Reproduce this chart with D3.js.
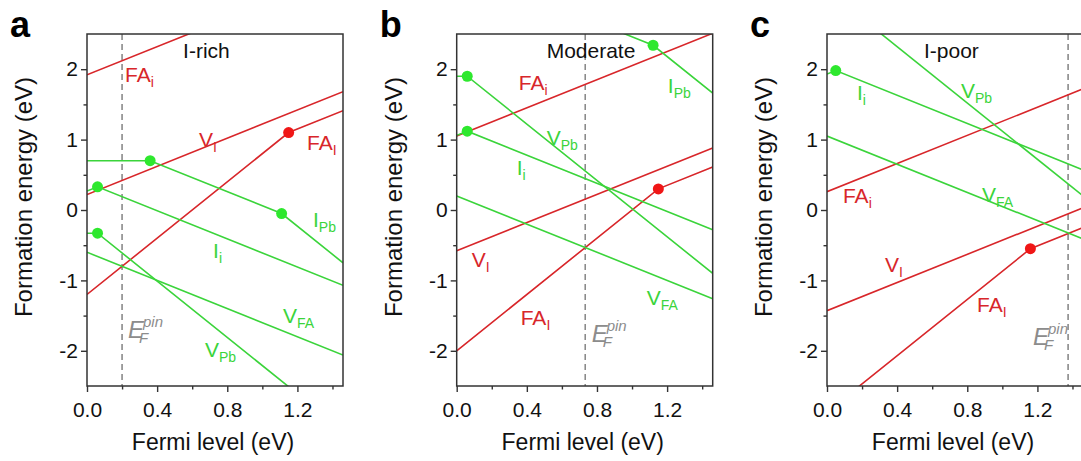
<!DOCTYPE html>
<html>
<head>
<meta charset="utf-8">
<script src="https://cdn.jsdelivr.net/npm/d3@7"></script>
<style>
  body { margin: 0; background: #fff; }
  text { font-family: "Liberation Sans", Arial, sans-serif; }
</style>
</head>
<body>
<svg id="chart" width="1081" height="461"></svg>
<script>
// ---- data (eV) ----
var panelLetters = ["a", "b", "c"];
var conditions = ["I-rich", "Moderate", "I-poor"];
var pinLevels = [0.20, 0.733, 1.375];
var xTicks = [0, 0.4, 0.8, 1.2];
var xMinor = [0.2, 0.6, 1.0, 1.4];
var yTicks = [-2, -1, 0, 1, 2];
var yMinor = [-1.5, -0.5, 0.5, 1.5];

// defect formation energy lines, vertices [Fermi level, energy]
var linesA = [
  ["FA_i", [[0, 1.92], [1.46, 3.38]]],
  ["V_I",  [[0, 0.22], [1.46, 1.68]]],
  ["FA_I", [[0, -1.2], [1.15, 1.1], [1.46, 1.41]]],
  ["I_Pb", [[0, 0.7], [0.36, 0.7], [1.11, -0.05], [1.46, -0.75]]],
  ["I_i",  [[0, 0.27], [0.06, 0.33], [1.46, -1.07]]],
  ["V_Pb", [[0, -0.33], [0.06, -0.33], [1.46, -3.13]]],
  ["V_FA", [[0, -0.6], [1.46, -2.06]]]
];
var linesB = [
  ["FA_i", [[0, 1.05], [1.46, 2.51]]],
  ["V_I",  [[0, -0.58], [1.46, 0.88]]],
  ["FA_I", [[0, -2.0], [1.15, 0.3], [1.46, 0.61]]],
  ["I_Pb", [[0.8, 2.66], [1.12, 2.34], [1.46, 1.66]]],
  ["I_i",  [[0, 1.06], [0.06, 1.12], [1.46, -0.28]]],
  ["V_Pb", [[0, 1.9], [0.06, 1.9], [1.46, -0.9]]],
  ["V_FA", [[0, 0.2], [1.46, -1.26]]]
];
var linesC = [
  ["FA_i", [[0, 0.26], [1.46, 1.72]]],
  ["V_I",  [[0, -1.43], [1.46, 0.03]]],
  ["FA_I", [[0, -2.87], [1.16, -0.55], [1.46, -0.25]]],
  ["I_i",  [[0, 1.93], [0.05, 1.98], [1.46, 0.57]]],
  ["V_Pb", [[0, 3.12], [1.46, 0.2]]],
  ["V_FA", [[0, 1.05], [1.46, -0.41]]]
];

// charge transition levels
var dotsA = [["FA_I", 1.15, 1.1], ["I_Pb", 0.36, 0.7], ["I_Pb", 1.11, -0.05], ["I_i", 0.06, 0.33], ["V_Pb", 0.06, -0.33]];
var dotsB = [["FA_I", 1.15, 0.3], ["I_Pb", 1.12, 2.34], ["I_i", 0.06, 1.12], ["V_Pb", 0.06, 1.9]];
var dotsC = [["FA_I", 1.16, -0.55], ["I_i", 0.05, 1.98]];

// label anchors [defect, x, y] in data units
var labelsA = [["FA_i", 0.217, 1.82], ["V_I", 0.639, 0.89], ["FA_I", 1.255, 0.85], ["I_Pb", 1.289, -0.24],
  ["I_i", 0.719, -0.68], ["V_FA", 1.118, -1.61], ["V_Pb", 0.673, -2.09]];
var labelsB = [["FA_i", 0.354, 1.70], ["I_Pb", 1.204, 1.66], ["V_Pb", 0.513, 0.92], ["I_i", 0.342, 0.50],
  ["V_I", 0.086, -0.81], ["FA_I", 0.365, -1.63], ["V_FA", 1.084, -1.35]];
var labelsC = [["I_i", 0.171, 1.56], ["V_Pb", 0.764, 1.59], ["FA_i", 0.091, 0.10], ["V_FA", 0.884, 0.11],
  ["V_I", 0.331, -0.88], ["FA_I", 0.856, -1.45]];
var condPos = [[0.548, 2.16], [0.513, 2.16], [0.553, 2.16]];
var pinLabelPos = [[0.234, -1.82], [0.77, -1.88], [1.175, -1.92]];

var allLines = [linesA, linesB, linesC];
var allDots = [dotsA, dotsB, dotsC];
var allLabels = [labelsA, labelsB, labelsC];

// ---- style ----
var red = "#d8262a", green = "#3bd43b";
var redDot = "#f01616", greenDot = "#2ee82e";
var donors = ["FA_i", "V_I", "FA_I"];
function col(name) { return donors.indexOf(name) >= 0 ? red : green; }
function dotCol(name) { return donors.indexOf(name) >= 0 ? redDot : greenDot; }

var panelLeft = [87, 456.7, 827];
var plotTop = 34, w = 256, h = 352;

var svg = d3.select("#chart");

var x = d3.scaleLinear().domain([0, 1.46]).range([0, w]);
var y = d3.scaleLinear().domain([-2.5, 2.5]).range([h, 0]);
var line = d3.line().x(function (d) { return x(d[0]); }).y(function (d) { return y(d[1]); });

panelLetters.forEach(function (letter, i) {
  var g = svg.append("g").attr("transform", "translate(" + panelLeft[i] + "," + plotTop + ")");

  g.append("clipPath").attr("id", "clip" + i)
    .append("rect").attr("width", w).attr("height", h);

  // axes
  g.append("g").attr("transform", "translate(0," + h + ")")
    .call(d3.axisBottom(x).tickValues(xTicks).tickSize(6).tickPadding(10).tickFormat(d3.format(".1f")));
  g.append("g").attr("transform", "translate(0," + h + ")")
    .call(d3.axisBottom(x).tickValues(xMinor).tickSize(3.5).tickFormat(""));
  g.append("g")
    .call(d3.axisLeft(y).tickValues(yTicks).tickSize(6).tickPadding(3).tickFormat(function (d) { return String(d); }));
  g.append("g")
    .call(d3.axisLeft(y).tickValues(yMinor).tickSize(3.5).tickFormat(""));
  g.selectAll(".domain").remove();
  g.selectAll(".tick line").attr("stroke", "#333").attr("stroke-width", 1.4);
  g.selectAll(".tick text").attr("font-size", 21).attr("fill", "#111")
    .style("font-family", "'Liberation Sans', Arial, sans-serif");

  var plot = g.append("g").attr("clip-path", "url(#clip" + i + ")");

  // pinned Fermi level
  plot.append("line")
    .attr("x1", x(pinLevels[i])).attr("x2", x(pinLevels[i]))
    .attr("y1", 0).attr("y2", h)
    .attr("stroke", "#8a8a8a").attr("stroke-width", 1.6).attr("stroke-dasharray", "6,4");

  allLines[i].forEach(function (l) {
    plot.append("path").datum(l[1])
      .attr("d", line).attr("fill", "none")
      .attr("stroke", col(l[0])).attr("stroke-width", 1.6);
  });

  plot.selectAll("circle").data(allDots[i]).enter().append("circle")
    .attr("cx", function (d) { return x(d[1]); })
    .attr("cy", function (d) { return y(d[2]); })
    .attr("r", 5.5)
    .attr("fill", function (d) { return dotCol(d[0]); });

  // frame
  g.append("rect").attr("width", w).attr("height", h)
    .attr("fill", "none").attr("stroke", "#333").attr("stroke-width", 1.5);

  // defect labels
  allLabels[i].forEach(function (l) {
    var parts = l[0].split("_");
    var t = g.append("text")
      .attr("x", x(l[1])).attr("y", y(l[2]))
      .attr("font-size", 21).attr("fill", col(l[0]));
    t.append("tspan").text(parts[0]);
    t.append("tspan").attr("font-size", 14).attr("dy", 5).text(parts[1]);
  });

  // condition
  g.append("text")
    .attr("x", x(condPos[i][0])).attr("y", y(condPos[i][1]))
    .attr("font-size", 21).attr("fill", "#111")
    .text(conditions[i]);

  // E_F^pin
  var px = x(pinLabelPos[i][0]), py = y(pinLabelPos[i][1]);
  var pl = g.append("g").attr("fill", "#8c8c8c").attr("font-style", "italic");
  pl.append("text").attr("x", px).attr("y", py).attr("font-size", 24).text("E");
  pl.append("text").attr("x", px + 15).attr("y", py - 11).attr("font-size", 15).text("pin");
  pl.append("text").attr("x", px + 11).attr("y", py + 5).attr("font-size", 15).text("F");

  // axis titles
  g.append("text")
    .attr("transform", "translate(-55," + (h / 2 - 13) + ") rotate(-90)")
    .attr("text-anchor", "middle").attr("font-size", 24).attr("fill", "#111")
    .text("Formation energy (eV)");
  g.append("text")
    .attr("x", w / 2 - 2).attr("y", 450 - plotTop)
    .attr("text-anchor", "middle").attr("font-size", 23).attr("fill", "#111")
    .text("Fermi level (eV)");

  // panel letter
  svg.append("text")
    .attr("x", panelLeft[i] - 77).attr("y", 37)
    .attr("font-size", 36).attr("font-weight", "bold").attr("fill", "#000")
    .text(letter);
});
</script>
</body>
</html>
